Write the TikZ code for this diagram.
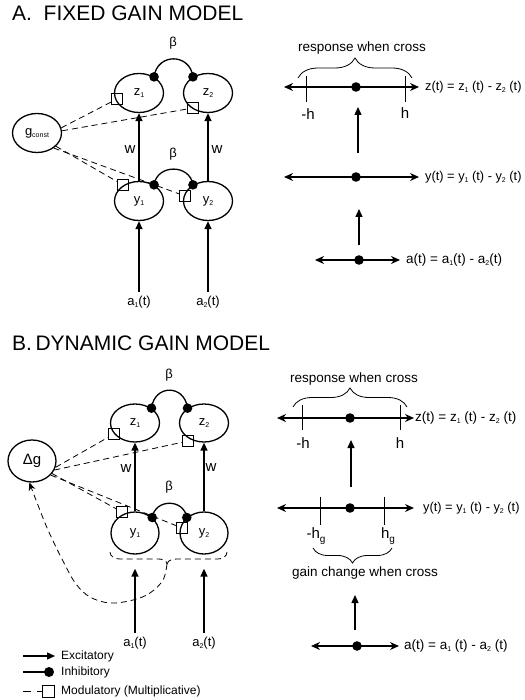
\documentclass[tikz,border=0pt]{standalone}
\usepackage{fontspec}
\setmainfont{Liberation Sans}
\usetikzlibrary{arrows.meta,shapes.geometric,decorations.pathreplacing}
\newcommand\lowsub[1]{\raisebox{-0.3ex}{\fontsize{7}{7}\selectfont #1}}
\newcommand\gsub[1]{\raisebox{-0.45ex}{\fontsize{10}{10}\selectfont #1}}
\begin{document}
\begin{tikzpicture}[x=1pt,y=-1pt,
  neuron/.style={draw, ellipse, line width=1.3pt, minimum width=49pt, minimum height=39pt, inner sep=0pt, font=\fontsize{13}{13}\selectfont},
  modsq/.style={draw, rectangle, line width=0.8pt, minimum size=11pt, inner sep=0pt},
  modline/.style={line width=0.8pt, dash pattern=on 6pt off 4pt},
  excit/.style={line width=1.4pt, -{Triangle[length=8pt,width=7pt]}},
  inhibline/.style={line width=1.3pt},
  axisline/.style={line width=1.4pt, {Stealth[length=9pt,width=8pt]}-{Stealth[length=9pt,width=8pt]}},
  ticklin/.style={line width=1pt},
  curlyb/.style={line width=0.8pt, decorate, decoration={brace, amplitude=#1}},
  lab/.style={inner sep=1pt, font=\fontsize{13}{13}\selectfont},
  eqlab/.style={anchor=west, inner sep=1pt, font=\fontsize{13.5}{13.5}\selectfont},
  eqlabA/.style={anchor=west, inner sep=1pt, font=\fontsize{12.8}{12.8}\selectfont},
  biglab/.style={inner sep=1pt, font=\fontsize{15}{15}\selectfont},
  title/.style={anchor=base west, inner sep=0pt, font=\fontsize{21}{21}\selectfont},
  leg/.style={anchor=west, inner sep=0pt, font=\fontsize{12}{12}\selectfont},
]
\useasboundingbox (0,0) rectangle (524,700);

%================ A ================
\node[title] (titleA) at (12,21) {A.\ \ FIXED GAIN MODEL};

\node[neuron] (z1) at (139,93) {z\lowsub{1}};
\node[neuron] (z2) at (208,93) {z\lowsub{2}};
\node[neuron] (y1) at (139,201) {y\lowsub{1}};
\node[neuron] (y2) at (208,201) {y\lowsub{2}};
\node[neuron] (g) at (37,133) {g\lowsub{const}};

\node[lab] (betaA1) at (173,43) {β};
\node[lab] (betaA2) at (173,154) {β};

% inhibitory z
\draw[inhibline] (z1.47) .. controls +(3,-24) and +(-3,-24) .. (z2.133);
\fill (z1.47) circle (4.8);
\fill (z2.133) circle (4.8);
% inhibitory y
\draw[inhibline] (y1.47) .. controls +(3,-21) and +(-3,-21) .. (y2.133);
\fill (y1.47) circle (4.8);
\fill (y2.133) circle (4.8);

% excitatory w
\draw[excit] (y1.north) -- (z1.south);
\draw[excit] (y2.north) -- (z2.south);
\node[biglab] (wA1) at (130,150) {w};
\node[biglab] (wA2) at (217,150) {w};

% inputs
\node[lab] (a1A) at (139,302) {a\lowsub{1}(t)};
\node[lab] (a2A) at (208,302) {a\lowsub{2}(t)};
\draw[excit] ([yshift=3pt]a1A.north) -- (y1.south);
\draw[excit] ([yshift=3pt]a2A.north) -- (y2.south);

% modulatory squares
\node[modsq] (sqz1) at (117,99) {};
\node[modsq] (sqz2) at (193,108) {};
\node[modsq] (sqy1) at (123,185) {};
\node[modsq] (sqy2) at (185,196) {};
\draw[modline] (g.12) -- (sqz1);
\draw[modline] (g.5) -- (sqz2);
\draw[modline] (g.-35) -- (sqy1);
\draw[modline] (g.-42) -- (sqy2);

% right side A
\node[lab, font=\fontsize{13.5}{13.5}\selectfont] (respA) at (362,48) {response when cross};
\draw[curlyb=20pt] (298,78) -- (412,78);
\coordinate (zdA) at (356,87);
\draw[axisline] (284,87) -- (419,87);
\fill (zdA) circle (4.8);
\draw[ticklin] (306,76) -- (306,102);
\draw[ticklin] (405,76) -- (405,102);
\node[biglab] (mhA) at (308,114) {-h};
\node[biglab] (phA) at (405,113) {h};
\node[eqlabA] (zlabA) at (424,87) {z(t) = z\lowsub{1} (t) - z\lowsub{2} (t)};

\coordinate (ydA) at (356,177);
\draw[excit] (358,153) -- (358,107);
\draw[axisline] (284,177) -- (419,177);
\fill (ydA) circle (4.8);
\node[eqlabA] (ylabA) at (424,177) {y(t) = y\lowsub{1} (t) - y\lowsub{2} (t)};

\coordinate (adA) at (359,260);
\draw[excit] (359,245) -- (359,209);
\draw[axisline] (315,260) -- (400,260);
\fill (adA) circle (4.8);
\node[eqlab] (alabA) at (405,260) {a(t) = a\lowsub{1}(t) - a\lowsub{2}(t)};

%================ B ================
\node[title] (titleB) at (12,350) {B.\,DYNAMIC GAIN MODEL};

\node[neuron, minimum height=38pt] (bz1) at (135,423) {z\lowsub{1}};
\node[neuron, minimum height=38pt] (bz2) at (204,423) {z\lowsub{2}};
\node[neuron, minimum height=42pt, minimum width=48pt] (by1) at (135,533) {y\lowsub{1}};
\node[neuron, minimum height=42pt, minimum width=48pt] (by2) at (204,533) {y\lowsub{2}};
\node[neuron, minimum width=48pt, minimum height=42pt, font=\fontsize{15}{15}\selectfont] (dg) at (32,461) {Δg};

\node[lab] (betaB1) at (169,375) {β};
\node[lab] (betaB2) at (169,487) {β};

\draw[inhibline] (bz1.42) .. controls +(3,-24) and +(-3,-24) .. (bz2.138);
\fill (bz1.42) circle (4.8);
\fill (bz2.138) circle (4.8);
\draw[inhibline] (by1.42) .. controls +(3,-19) and +(-3,-19) .. (by2.138);
\fill (by1.42) circle (4.8);
\fill (by2.138) circle (4.8);

\draw[excit] (by1.north) -- (bz1.south);
\draw[excit] (by2.north) -- (bz2.south);
\node[biglab] (wB1) at (126,469) {w};
\node[biglab] (wB2) at (211,468) {w};

\node[lab] (a1B) at (135,643) {a\lowsub{1}(t)};
\node[lab] (a2B) at (204,643) {a\lowsub{2}(t)};
\draw[excit] ([yshift=3pt]a1B.north) -- ([yshift=-14pt]by1.south);
\draw[excit] ([yshift=3pt]a2B.north) -- ([yshift=-14pt]by2.south);

\node[modsq] (bsqz1) at (114,434) {};
\node[modsq] (bsqz2) at (188,441) {};
\node[modsq] (bsqy1) at (122,512) {};
\node[modsq] (bsqy2) at (182,528) {};
\draw[modline] (dg.-15) -- (bsqz1);
\draw[modline] (dg.-22) -- (bsqz2);
\draw[modline] (dg.-32) -- (bsqy1);
\draw[modline] (dg.-37) -- (bsqy2);

% dashed bracket and feedback
\coordinate (btip) at (167,564);
\draw[modline] (110,552) to[out=-90,in=180] (120,559) -- (158,559) to[out=0,in=95] (btip);
\draw[modline] (btip) to[out=75,in=180] (178,559) -- (218,559) to[out=0,in=-90] (227,552);
\draw[modline, -{Stealth[length=8pt,width=7pt]}] plot[smooth, tension=0.6] coordinates {(btip) (163,580) (150,593) (133,600) (110,603) (90,597) (76,584) (64,563) (48,530) (36,500) (dg.-97)};

% right side B
\node[lab, font=\fontsize{13.5}{13.5}\selectfont] (respB) at (354,379) {response when cross};
\draw[curlyb=19pt] (293,407) -- (407,407);
\coordinate (zdB) at (350,418);
\draw[axisline] (277,418) -- (414,418);
\fill (zdB) circle (4.8);
\draw[ticklin] (302,405) -- (302,430);
\draw[ticklin] (400,405) -- (400,430);
\node[biglab] (mhB) at (303,443) {-h};
\node[biglab] (phB) at (400,443) {h};
\node[eqlab] (zlabB) at (414,418) {z(t) = z\lowsub{1} (t) - z\lowsub{2} (t)};

\draw[excit] (351,487) -- (351,440);

\coordinate (ydB) at (350,508);
\draw[axisline] (277,508) -- (414,508);
\fill (ydB) circle (4.8);
\draw[ticklin] (320,497) -- (320,525);
\draw[ticklin] (384,497) -- (384,525);
\node[biglab] (mhgB) at (316,536) {-h\gsub{g}};
\node[biglab] (phgB) at (388,536) {h\gsub{g}};
\node[eqlabA] (ylabB) at (422,508) {y(t) = y\lowsub{1} (t) - y\lowsub{2} (t)};

\draw[curlyb=15pt] (392,548) -- (313,548);
\node[lab, font=\fontsize{13.5}{13.5}\selectfont] (gainB) at (365,573) {gain change when cross};

\draw[excit] (355,630) -- (355,595);
\coordinate (adB) at (357,646);
\draw[axisline] (311,646) -- (399,646);
\fill (adB) circle (4.8);
\node[eqlab] (alabB) at (403,646) {a(t) = a\lowsub{1} (t) - a\lowsub{2} (t)};

% legend
\coordinate (le1) at (23,656);
\coordinate (le2) at (55,656);
\draw[excit] (le1) -- (le2);
\node[leg] (legE) at (61,656) {Excitatory};
\coordinate (li1) at (23,672);
\coordinate (li2) at (49,672);
\draw[inhibline] (li1) -- (li2);
\fill (li2) circle (5);
\node[leg] (legI) at (61,672) {Inhibitory};
\coordinate (lm1) at (23,691);
\node[modsq, minimum size=12pt] (legsq) at (48,691) {};
\draw[line width=0.8pt, dash pattern=on 8pt off 6pt] (lm1) -- (legsq.west);
\node[leg] (legM) at (61,691) {Modulatory (Multiplicative)};
\end{tikzpicture}
\end{document}
